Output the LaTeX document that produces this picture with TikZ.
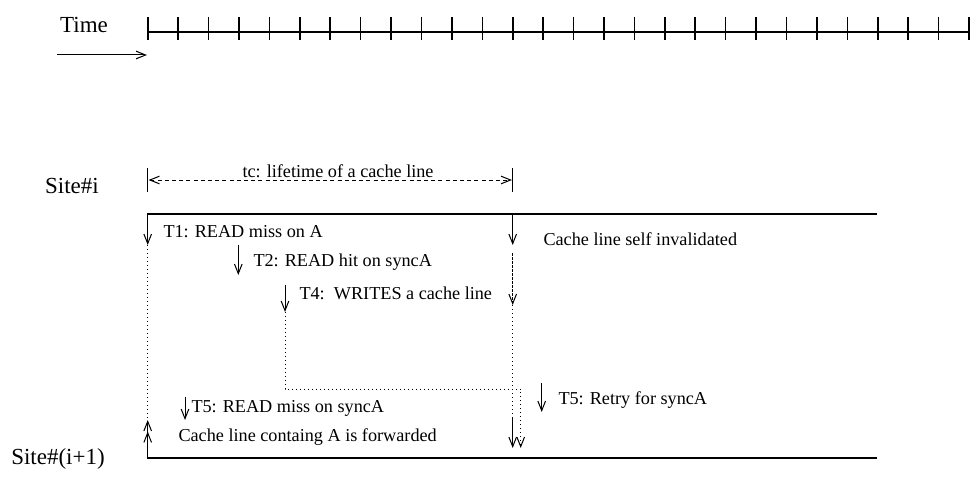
\documentclass[tikz,border=0pt]{standalone}
\usepackage{fontspec}
\setmainfont{Liberation Serif}
\usetikzlibrary{arrows.meta}
\begin{document}
\begin{tikzpicture}[x=0.5pt,y=-0.5pt,
  line width=0.5pt,
  tip/.style={-{Straight Barb[length=4.8pt,width=3.8pt]}},
  duotip/.style={-{Straight Barb[length=4.8pt,width=3.8pt]Straight Barb[length=4.8pt,width=3.8pt]}},
  bothtips/.style={{Straight Barb[length=4.8pt,width=3.8pt]}-{Straight Barb[length=4.8pt,width=3.8pt]}},
  dotline/.style={dash pattern=on 0.5pt off 1.5pt},
  dashline/.style={dash pattern=on 2pt off 1.6pt},
  denseline/.style={dash pattern=on 1.5pt off 0.5pt},
  siteline/.style={line width=1pt},
  tickmark/.style={line width=0.8pt},
  event/.style={anchor=west,inner sep=0pt,font=\fontsize{9.1}{11}\selectfont},
  sidelabel/.style={inner sep=0pt,font=\fontsize{11.5}{13}\selectfont}]
\useasboundingbox (0,0) rectangle (973,476);

% time axis with regular ticks
\node[sidelabel] (time) at (84,25) {Time};
\coordinate (axisL) at (147.7,32);
\coordinate (axisR) at (969,32);
\draw[line width=0.65pt] (axisL) -- (axisR);
\foreach \i in {0,...,27}
  \draw[tickmark] (147.7+\i*30.42,17) -- ++(0,23);
\coordinate (tarrowL) at (57,55);
\coordinate (tarrowR) at (147,55);
\draw[tip] (tarrowL) -- (tarrowR);

% lifetime of a cache line
\coordinate (tcTopL) at (147.7,168);
\coordinate (tcBotL) at (147.7,192);
\coordinate (tcTopR) at (512.7,168);
\coordinate (tcBotR) at (512.7,192);
\draw (tcTopL) -- (tcBotL);
\draw (tcTopR) -- (tcBotR);
\coordinate (tcL) at (148.5,180);
\coordinate (tcR) at (512,180);
\draw[bothtips,dashline] (tcL) -- (tcR);
\node[event,anchor=center] (tclabel) at (338,171) {tc: lifetime of a cache line};

% the two sites
\node[sidelabel] (sitei) at (72,186) {Site\#i};
\node[sidelabel] (siteii) at (58,459) {Site\#(i+1)};
\coordinate (siAL) at (147,214);
\coordinate (siAR) at (877,214);
\coordinate (siBL) at (147,458);
\coordinate (siBR) at (877,458);
\draw[siteline] (siAL) -- (siAR);
\draw[siteline] (siBL) -- (siBR);

% T1: read miss, then the line travels down to the other site
\coordinate (t1a) at (147.7,214);
\coordinate (t1b) at (147.7,245);
\coordinate (t1c) at (147.7,420);
\coordinate (fwdA) at (147.7,458);
\draw[tip] (t1a) -- (t1b);
\draw[dotline] (t1b) -- (t1c);
\draw[duotip] (fwdA) -- (t1c);
\node[event] (t1) at (163,232) {T1: READ miss on A};

% T2: read hit
\coordinate (t2a) at (238.3,245);
\coordinate (t2b) at (238.3,275);
\draw[tip] (t2a) -- (t2b);
\node[event] (t2) at (253,262.5) {T2: READ hit on syncA};

% T4: write, then the request travels to the other site
\coordinate (t4a) at (285,285);
\coordinate (t4b) at (285,312);
\coordinate (t4c) at (285,389);
\coordinate (t4d) at (520.7,389);
\coordinate (t4e) at (520.7,448);
\draw[tip] (t4a) -- (t4b);
\draw[dotline,tip] (t4b) -- (t4c) -- (t4d) -- (t4e);
\node[event] (t4) at (299,293) {T4:\ \ WRITES a cache line};

% end of lifetime: self invalidation
\coordinate (inva) at (512.7,214);
\coordinate (invb) at (512.7,245);
\coordinate (invc) at (512.7,253);
\coordinate (invd) at (512.7,305);
\coordinate (inve) at (512.7,418);
\coordinate (invf) at (512.7,448);
\draw[tip] (inva) -- (invb);
\draw[denseline,tip] (invc) -- (invd);
\draw[dotline] (invd) -- (inve);
\draw[tip] (inve) -- (invf);
\node[event] (inv) at (543,239) {Cache line self invalidated};

% T5 at the other site
\coordinate (t5a) at (185,397);
\coordinate (t5b) at (185,420);
\draw[tip] (t5a) -- (t5b);
\node[event] (t5) at (191,408) {T5: READ miss on syncA};
\node[event] (fwd) at (178,437) {Cache line containg A is forwarded};

\coordinate (t5ra) at (541.7,383);
\coordinate (t5rb) at (541.7,412);
\draw[tip] (t5ra) -- (t5rb);
\node[event] (t5r) at (558,400) {T5: Retry for syncA};
\end{tikzpicture}
\end{document}
